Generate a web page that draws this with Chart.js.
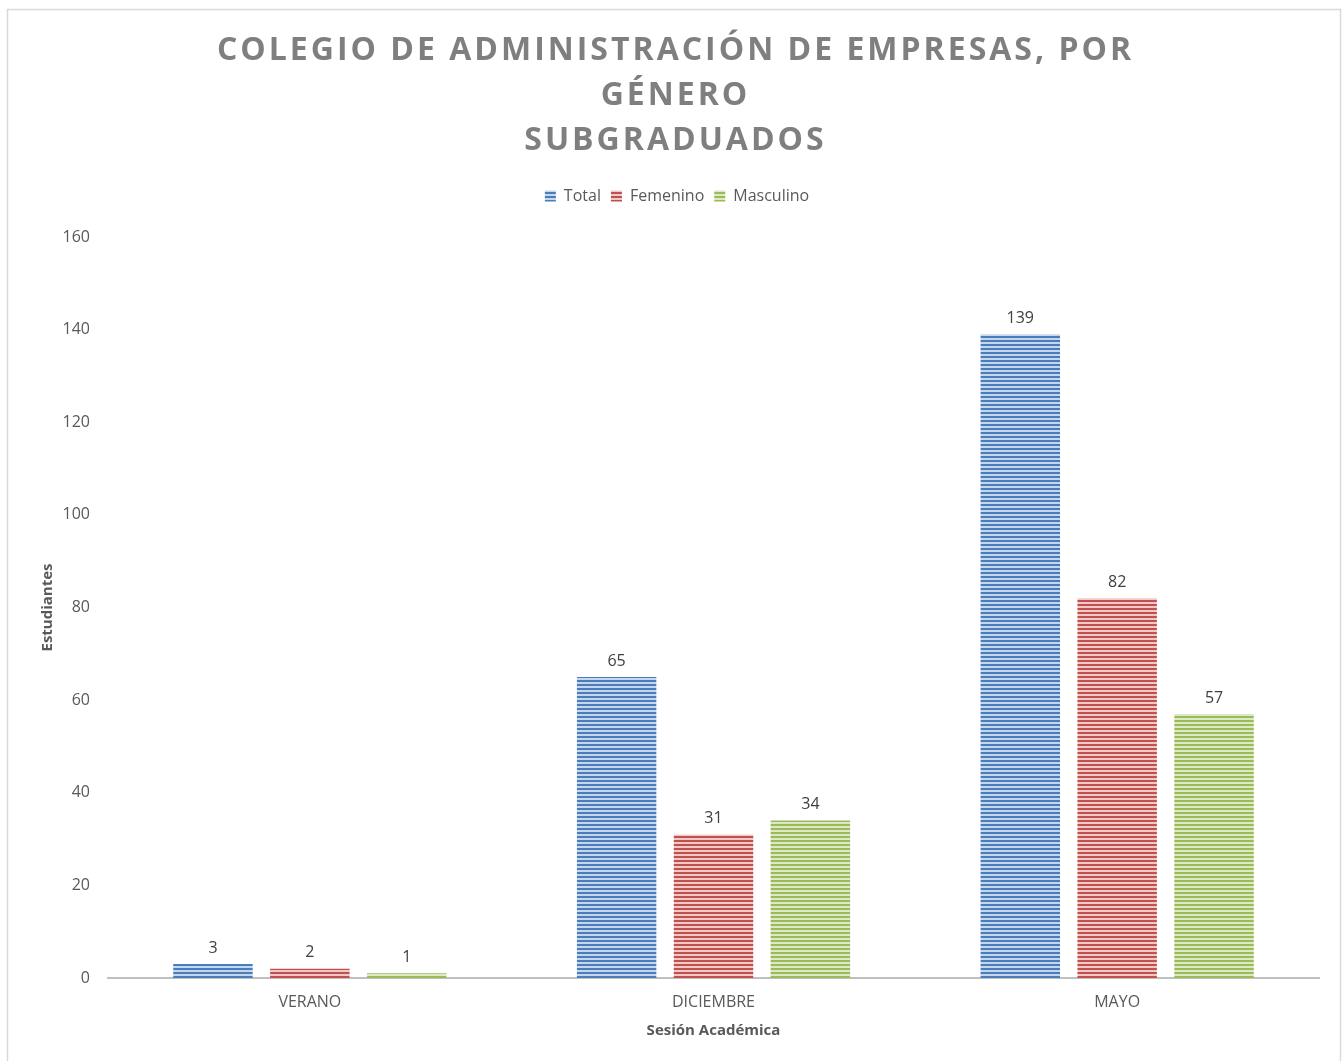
<!DOCTYPE html>
<html>
<head>
<meta charset="utf-8">
<script src="https://cdn.jsdelivr.net/npm/chart.js@4/dist/chart.umd.min.js"></script>
<style>
  html, body { margin: 0; padding: 0; background: #fff; }
  #wrap { width: 1344px; height: 1061px; position: relative; }
</style>
</head>
<body>
<div id="wrap"><canvas id="myChart"></canvas></div>
<script>
// data
const titleLines = ['COLEGIO DE ADMINISTRACIÓN DE EMPRESAS, POR', 'GÉNERO', 'SUBGRADUADOS'];
const sessions = ['VERANO', 'DICIEMBRE', 'MAYO'];
const seriesNames = ['Total', 'Femenino', 'Masculino'];
const totalValues = [3, 65, 139];
const femeninoValues = [2, 31, 82];
const masculinoValues = [1, 34, 57];
const yTicks = [0, 20, 40, 60, 80, 100, 120, 140, 160];
const xTitle = 'Sesión Académica';
const yTitle = 'Estudiantes';

const FONT = "'Open Sans', 'Liberation Sans', sans-serif";

// horizontal stripe fill like the excel pattern
function stripes(dark, light) {
    const c = document.createElement('canvas');
    c.width = 8; c.height = 4;
    const g = c.getContext('2d');
    g.fillStyle = light; g.fillRect(0, 0, 8, 4);
    g.fillStyle = dark; g.fillRect(0, 0, 8, 2);
    return g.createPattern(c, 'repeat');
}

const headerPlugin = {
    id: 'header',
    beforeDraw(chart) {
        const ctx = chart.ctx;
        ctx.save();
        ctx.fillStyle = '#fff';
        ctx.fillRect(0, 0, chart.width, chart.height);
        ctx.strokeStyle = '#d9d9d9';
        ctx.lineWidth = 1.5;
        ctx.strokeRect(7.5, 9.5, 1333, 1062);
        ctx.restore();
    },
    afterDraw(chart) {
        const ctx = chart.ctx;
        ctx.save();
        ctx.font = 'bold 32px ' + FONT;
        ctx.fillStyle = '#7f7f7f';
        ctx.textAlign = 'left';
        ctx.textBaseline = 'middle';
        ctx.letterSpacing = '3px';
        const cx = 674;
        titleLines.forEach((line, i) => {
            const w = ctx.measureText(line).width - 3;
            ctx.fillText(line, cx - w / 2, 51 + i * 45);
        });
        ctx.restore();
    }
};

// value labels above each bar
const valueLabels = {
    id: 'valueLabels',
    afterDatasetsDraw(chart) {
        const ctx = chart.ctx;
        ctx.save();
        ctx.font = '16px ' + FONT;
        ctx.fillStyle = '#404040';
        ctx.textAlign = 'center';
        ctx.textBaseline = 'bottom';
        chart.data.datasets.forEach((ds, i) => {
            chart.getDatasetMeta(i).data.forEach((bar, j) => {
                ctx.fillText(ds.data[j], bar.x, bar.y - 8);
            });
        });
        ctx.restore();
    }
};

const ctx = document.getElementById('myChart');
new Chart(ctx, {
    type: 'bar',
    data: {
        labels: sessions,
        datasets: [
            { label: seriesNames[0], data: totalValues, backgroundColor: stripes('#4a7ebb', '#c6d7ed') },
            { label: seriesNames[1], data: femeninoValues, backgroundColor: stripes('#c0504d', '#efc9c8') },
            { label: seriesNames[2], data: masculinoValues, backgroundColor: stripes('#9bbb59', '#dde9c6') }
        ]
    },
    options: {
        responsive: true,
        maintainAspectRatio: false,
        animation: false,
        devicePixelRatio: 1,
        layout: { padding: { top: 178, left: 35, right: 25, bottom: 17 } },
        datasets: {
            bar: { categoryPercentage: 0.72, barPercentage: 0.82, borderWidth: 0 }
        },
        plugins: {
            legend: {
                position: 'top',
                labels: {
                    font: { family: FONT, size: 16 },
                    color: '#595959',
                    boxWidth: 11,
                    boxHeight: 11,
                    padding: 10
                }
            },
            tooltip: { enabled: false },
            title: { display: false }
        },
        scales: {
            x: {
                grid: { display: false, drawTicks: false },
                border: { display: true, color: '#bfbfbf', width: 2 },
                ticks: { color: '#595959', font: { family: FONT, size: 16 }, padding: 15 },
                title: { display: true, text: xTitle, color: '#595959', font: { family: FONT, size: 15, weight: 'bold' } },
                afterFit(s) { s.height = 66; }
            },
            x2: {
                position: 'top',
                grid: { display: false, drawTicks: false },
                border: { display: false },
                ticks: { display: false },
                afterFit(s) { s.height = 23; }
            },
            y: {
                min: 0,
                max: 160,
                grid: { display: false, drawTicks: false },
                border: { display: false },
                afterBuildTicks(s) { s.ticks = yTicks.map(v => ({ value: v })); },
                ticks: { color: '#595959', font: { family: FONT, size: 16 }, padding: 18 },
                title: { display: true, text: yTitle, color: '#595959', font: { family: FONT, size: 15, weight: 'bold' } },
                afterFit(s) { s.width = 73; }
            }
        }
    },
    plugins: [headerPlugin, valueLabels]
});
</script>
</body>
</html>
